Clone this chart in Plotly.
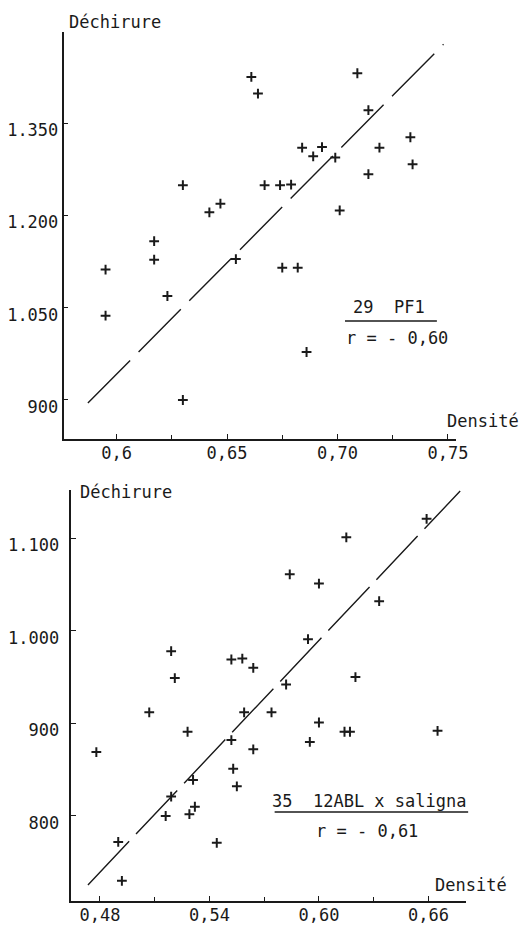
import plotly.graph_objects as go

# ---------------- data ----------------
# Panel 1 : 29 PF1
pf1_densite = [0.661, 0.664, 0.684, 0.630, 0.667, 0.674, 0.679, 0.642, 0.647,
               0.709, 0.714, 0.733, 0.693, 0.689, 0.699, 0.719, 0.734, 0.714,
               0.701, 0.617, 0.617, 0.595, 0.623, 0.595, 0.630, 0.654, 0.675,
               0.682, 0.686]
pf1_dechirure = [1425, 1398, 1310, 1249, 1249, 1249, 1250, 1205, 1219,
                 1431, 1371, 1327, 1311, 1296, 1294, 1310, 1283, 1267,
                 1208, 1158, 1128, 1112, 1069, 1037, 900, 1129, 1115,
                 1115, 978]
pf1_fit_x = [0.587, 0.748]
pf1_fit_y = [895, 1478]

# Panel 2 : 35 12ABL x saligna
sal_densite = [0.584, 0.519, 0.521, 0.552, 0.558, 0.564, 0.582, 0.659, 0.615,
               0.600, 0.633, 0.594, 0.620, 0.507, 0.478, 0.528, 0.559, 0.574,
               0.552, 0.564, 0.553, 0.531, 0.555, 0.519, 0.532, 0.516, 0.529,
               0.490, 0.544, 0.492, 0.600, 0.595, 0.614, 0.617, 0.665]
sal_dechirure = [1061, 978, 949, 969, 970, 960, 942, 1121, 1101,
                 1051, 1032, 991, 950, 912, 869, 891, 912, 912,
                 882, 872, 851, 839, 832, 821, 810, 800, 802,
                 772, 771, 730, 901, 880, 891, 891, 892]
sal_fit_x = [0.4734, 0.6774]
sal_fit_y = [725.5, 1151]

# tick labels
pf1_xticks = [0.60, 0.65, 0.70, 0.75]
pf1_xtext = ["0,6", "0,65", "0,70", "0,75"]
pf1_xminor = [0.625, 0.675, 0.725]
pf1_yticks = [900, 1050, 1200, 1350]
pf1_ytext = ["900", "1.050", "1.200", "1.350"]

sal_xticks = [0.48, 0.54, 0.60, 0.66]
sal_xtext = ["0,48", "0,54", "0,60", "0,66"]
sal_xminor = [0.51, 0.57, 0.63]
sal_yticks = [800, 900, 1000, 1100]
sal_ytext = ["800", "900", "1.000", "1.100"]

# ---------------- figure ----------------
W, H = 530, 927
FONT = "DejaVu Sans Mono"
INK = "#1a1a1a"
FS = 17

fig = go.Figure()

marker = dict(symbol="cross-thin", size=7, line=dict(width=2, color=INK), color=INK)

fig.add_trace(go.Scatter(x=pf1_fit_x, y=pf1_fit_y, mode="lines",
                         line=dict(color=INK, width=1.4, dash="60px,12px"),
                         xaxis="x", yaxis="y", showlegend=False, hoverinfo="skip"))
fig.add_trace(go.Scatter(x=pf1_densite, y=pf1_dechirure, mode="markers",
                         marker=marker, xaxis="x", yaxis="y", showlegend=False))

fig.add_trace(go.Scatter(x=sal_fit_x, y=sal_fit_y, mode="lines",
                         line=dict(color=INK, width=1.4, dash="60px,10px"),
                         xaxis="x2", yaxis="y2", showlegend=False, hoverinfo="skip"))
fig.add_trace(go.Scatter(x=sal_densite, y=sal_dechirure, mode="markers",
                         marker=marker, xaxis="x2", yaxis="y2", showlegend=False))


def px_x(p):
    return p / W


def px_y(p):
    return 1 - p / H


axis_common = dict(showgrid=False, zeroline=False, showline=True, linecolor=INK,
                   linewidth=1.6, ticks="inside", ticklen=5, tickwidth=1.3,
                   tickcolor=INK, tickfont=dict(family=FONT, size=FS, color=INK),
                   tickmode="array")

fig.update_layout(
    width=W, height=H,
    margin=dict(l=0, r=0, t=0, b=0),
    paper_bgcolor="white", plot_bgcolor="white",
    xaxis=dict(axis_common, domain=[px_x(65), px_x(467)], range=[0.57597, 0.75385],
               tickvals=pf1_xticks, ticktext=pf1_xtext, anchor="y",
               ticklabelstandoff=-2,
               minor=dict(tickvals=pf1_xminor, ticks="inside", ticklen=4,
                          tickwidth=1.2, tickcolor=INK)),
    yaxis=dict(axis_common, domain=[px_y(439), px_y(32)], range=[836.6, 1498],
               tickvals=pf1_yticks, ticktext=pf1_ytext, anchor="x",
               ticklabelshift=7, ticklabelstandoff=0),
    xaxis2=dict(axis_common, domain=[px_x(73), px_x(477)], range=[0.4643, 0.6807],
                tickvals=sal_xticks, ticktext=sal_xtext, anchor="y2",
                ticklabelstandoff=-2,
                minor=dict(tickvals=sal_xminor, ticks="inside", ticklen=4,
                           tickwidth=1.2, tickcolor=INK)),
    yaxis2=dict(axis_common, domain=[px_y(900.7), px_y(490)], range=[708.5, 1152.1],
                tickvals=sal_yticks, ticktext=sal_ytext, anchor="x2",
                ticklabelshift=7, ticklabelstandoff=7),
)

ann_font = dict(family=FONT, size=FS, color=INK)


def text(xp, yp, s):
    fig.add_annotation(x=px_x(xp), y=px_y(yp), xref="paper", yref="paper",
                       text=s, showarrow=False, font=ann_font,
                       xanchor="center", yanchor="middle")


text(118, 22, "Déchirure")
text(494, 421, "Densité")
text(129, 492, "Déchirure")
text(482, 885, "Densité")

text(398, 307, "29  PF1")
text(406, 338, "r = - 0,60")
text(378, 801, "35  12ABL x saligna")
text(375, 831, "r = - 0,61")

for x0, x1, y in [(353, 447, 321), (281, 479, 812)]:
    fig.add_shape(type="line", xref="paper", yref="paper",
                  x0=px_x(x0), x1=px_x(x1), y0=px_y(y), y1=px_y(y),
                  line=dict(color=INK, width=1.4))

fig.write_html("out.html",
               config={"displayModeBar": False},
               post_script="document.body.style.margin='0';"
                           "document.body.style.overflow='hidden';")
